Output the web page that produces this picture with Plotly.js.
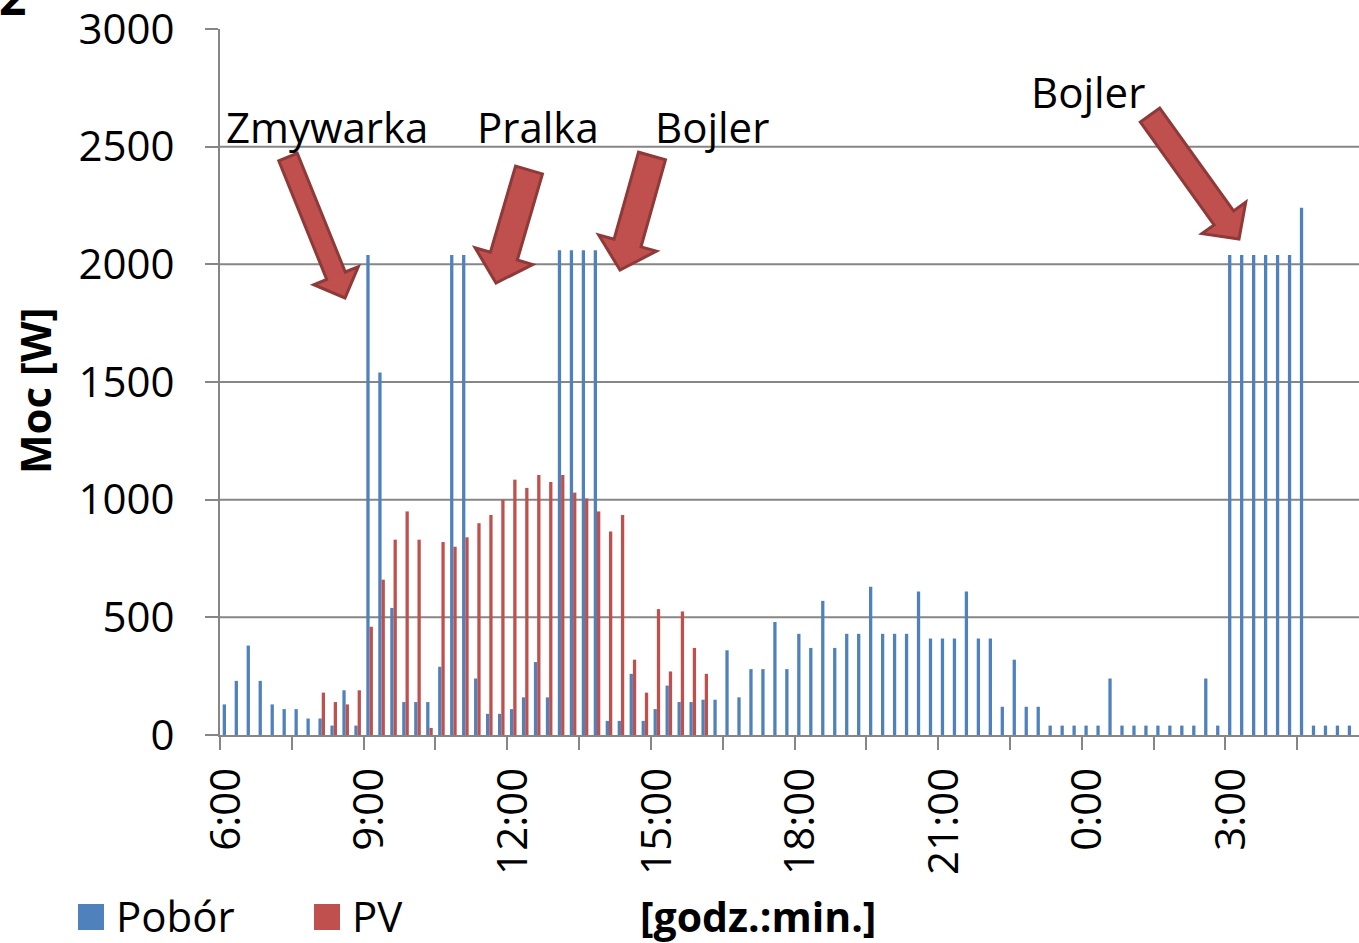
<!DOCTYPE html>
<html><head><meta charset="utf-8">
<script src="https://cdn.plot.ly/plotly-3.0.1.min.js"></script>
<style>html,body{margin:0;padding:0;overflow:hidden;background:#fff}#chart{width:1400px;height:943px}</style>
</head><body><div id="chart"></div>
<script>
// ---------- DATA ----------
const categories = [
 "6:00","6:15","6:30","6:45","7:00","7:15","7:30","7:45","8:00","8:15","8:30","8:45",
 "9:00","9:15","9:30","9:45","10:00","10:15","10:30","10:45","11:00","11:15","11:30","11:45",
 "12:00","12:15","12:30","12:45","13:00","13:15","13:30","13:45","14:00","14:15","14:30","14:45",
 "15:00","15:15","15:30","15:45","16:00","16:15","16:30","16:45","17:00","17:15","17:30","17:45",
 "18:00","18:15","18:30","18:45","19:00","19:15","19:30","19:45","20:00","20:15","20:30","20:45",
 "21:00","21:15","21:30","21:45","22:00","22:15","22:30","22:45","23:00","23:15","23:30","23:45",
 "0:00","0:15","0:30","0:45","1:00","1:15","1:30","1:45","2:00","2:15","2:30","2:45",
 "3:00","3:15","3:30","3:45","4:00","4:15","4:30","4:45","5:00","5:15","5:30","5:45"
];
const pobor = [
 130,230,380,230,130,110,110,70,70,40,190,40,
 2040,1540,540,140,140,140,290,2040,2040,240,90,90,
 110,160,310,160,2060,2060,2060,2060,60,60,260,60,
 110,210,140,140,150,150,360,160,280,280,480,280,
 430,370,570,370,430,430,630,430,430,430,610,410,
 410,410,610,410,410,120,320,120,120,40,40,40,
 40,40,240,40,40,40,40,40,40,40,240,40,
 2040,2040,2040,2040,2040,2040,2240,40,40,40,40,40
];
const pv = [
 0,0,0,0,0,0,0,0,180,140,130,190,
 460,660,830,950,830,30,820,800,840,900,935,1000,
 1085,1050,1105,1075,1105,1030,1005,950,865,935,320,180,
 535,270,525,370,260,0,0,0,0,0,0,0,
 0,0,0,0,0,0,0,0,0,0,0,0,
 0,0,0,0,0,0,0,0,0,0,0,0,
 0,0,0,0,0,0,0,0,0,0,0,0,
 0,0,0,0,0,0,0,0,0,0,0,0
];
const labelCats = ["6:00","9:00","12:00","15:00","18:00","21:00","0:00","3:00"];
const tickMarkCats = ["6:00","7:30","9:00","10:30","12:00","13:30","15:00","16:30","18:00","19:30","21:00","22:30","0:00","1:30","3:00","4:30"];
const yTicks = [0,500,1000,1500,2000,2500,3000];
const gridValues = [500,1000,1500,2000,2500];
const seriesNames = ["Pobór","PV"];
const calloutTexts = ["Zmywarka","Pralka","Bojler","Bojler"];
const yTitle = "Moc [W]";
const xTitle = "[godz.:min.]";

// ---------- LAYOUT GEOMETRY ----------
const W = 1400, H = 943, ML = 220, MR = 31, MT = 29, MB = 208;
const PW = W - ML - MR, PH = H - MT - MB;
const px = X => (X - ML) / PW;
const py = Y => (MT + PH - Y) / PH;

const BLUE = '#4F81BD', RED = '#C0504D', ARROW_LINE = '#8E3A38', GRID = '#868686';
const FONT = 'Open Sans, Noto Sans, sans-serif';

function arrowPath(tx, ty, hx, hy, w, hw, hl) {
  const dx = hx - tx, dy = hy - ty, L = Math.hypot(dx, dy);
  const ux = dx / L, uy = dy / L, nx = -uy, ny = ux;
  const bx = hx - ux * hl, by = hy - uy * hl;
  const pts = [
    [tx + nx * w / 2, ty + ny * w / 2],
    [bx + nx * w / 2, by + ny * w / 2],
    [bx + nx * hw / 2, by + ny * hw / 2],
    [hx, hy],
    [bx - nx * hw / 2, by - ny * hw / 2],
    [bx - nx * w / 2, by - ny * w / 2],
    [tx - nx * w / 2, ty - ny * w / 2]
  ];
  return 'M' + pts.map(p => px(p[0]).toFixed(5) + ',' + py(p[1]).toFixed(5)).join(' L') + ' Z';
}

const arrowGeo = [
  [288, 157, 345, 298, 20, 48, 24],
  [529, 170, 496, 283, 28, 60, 28],
  [652, 156, 620, 270, 28, 60, 28],
  [1150, 115, 1239, 239, 24, 54, 26]
];
const calloutPos = [[327, 126], [538, 126], [712, 126], [1088, 92]];

const shapes = [];
gridValues.forEach(v => shapes.push({type:'line', xref:'paper', yref:'y', x0:0, x1:1, y0:v, y1:v,
  line:{color:GRID, width:2}, layer:'below'}));
arrowGeo.forEach(a => shapes.push({type:'path', xref:'paper', yref:'paper',
  path: arrowPath(...a), fillcolor:RED, line:{color:ARROW_LINE, width:3}, layer:'above'}));
// legend swatches
shapes.push({type:'rect', xref:'paper', yref:'paper', x0:px(78), x1:px(104), y0:py(930), y1:py(904),
  fillcolor:BLUE, line:{width:0}});
shapes.push({type:'rect', xref:'paper', yref:'paper', x0:px(314), x1:px(340), y0:py(930), y1:py(904),
  fillcolor:RED, line:{width:0}});

const annotations = [];
calloutTexts.forEach((t, i) => annotations.push({text:t, xref:'paper', yref:'paper',
  x:px(calloutPos[i][0]), y:py(calloutPos[i][1]), xanchor:'center', yanchor:'middle', showarrow:false,
  font:{family:FONT, size:42, color:'#000'}}));
annotations.push({text:seriesNames[0], xref:'paper', yref:'paper', x:px(114), y:py(916),
  xanchor:'left', yanchor:'middle', showarrow:false, font:{family:FONT, size:42, color:'#000'}});
annotations.push({text:seriesNames[1], xref:'paper', yref:'paper', x:px(350), y:py(916),
  xanchor:'left', yanchor:'middle', showarrow:false, font:{family:FONT, size:42, color:'#000'}});
annotations.push({text:'<b>' + xTitle + '</b>', xref:'paper', yref:'paper', x:px(758), y:py(916),
  xanchor:'center', yanchor:'middle', showarrow:false, font:{family:FONT, size:41, color:'#000'}});
annotations.push({text:'<b>' + yTitle + '</b>', xref:'paper', yref:'paper', x:px(34), y:py(391),
  xanchor:'center', yanchor:'middle', textangle:-90, showarrow:false, font:{family:FONT, size:42, color:'#000'}});
annotations.push({text:'<b>2</b>', xref:'paper', yref:'paper', x:px(28), y:py(31),
  xanchor:'right', yanchor:'bottom', showarrow:false, font:{family:FONT, size:48, color:'#000'}});

const catIndex = categories.map((c, i) => i);
const traces = [
  {type:'bar', name:seriesNames[0], x:categories, y:pobor, marker:{color:BLUE, line:{width:0}}},
  {type:'bar', name:seriesNames[1], x:categories, y:pv, marker:{color:RED, line:{width:0}}},
  // invisible helper trace so the boundary-tick axis (x2) is drawn
  {type:'scatter', mode:'none', x:catIndex, y:pobor, xaxis:'x2', yaxis:'y',
    hoverinfo:'skip', showlegend:false}
];

const tickBoundaries = tickMarkCats.map(c => categories.indexOf(c) - 0.5);

const layout = {
  width:W, height:H, margin:{l:ML, r:MR, t:MT, b:MB, pad:0},
  paper_bgcolor:'#fff', plot_bgcolor:'#fff',
  barmode:'group', bargap:0.45, bargroupgap:0,
  showlegend:false,
  font:{family:FONT, color:'#000'},
  xaxis:{type:'category', categoryorder:'array', categoryarray:categories,
    range:[-0.5, categories.length - 0.5], automargin:false,
    tickmode:'array', tickvals:labelCats, ticktext:labelCats,
    tickangle:-90, ticks:'', ticklabelstandoff:14, ticklabeloverflow:'allow',
    showline:true, linecolor:GRID, linewidth:2, showgrid:false, zeroline:false,
    tickfont:{family:FONT, size:42, color:'#000'}},
  xaxis2:{type:'linear', overlaying:'x', anchor:'y', side:'bottom',
    range:[-0.5, categories.length - 0.5], automargin:false,
    tickmode:'array', tickvals:tickBoundaries, showticklabels:false,
    ticks:'outside', ticklen:14, tickwidth:2, tickcolor:GRID,
    showline:false, showgrid:false, zeroline:false},
  yaxis:{range:[0,3000], tickmode:'array', tickvals:yTicks, ticks:'outside', ticklen:13,
    tickwidth:2, tickcolor:GRID, showline:true, linecolor:GRID, linewidth:2,
    showgrid:false, zeroline:false, automargin:false, ticklabelstandoff:22,
    ticklabeloverflow:'allow',
    tickfont:{family:FONT, size:42, color:'#000'}},
  shapes:shapes, annotations:annotations
};

Plotly.newPlot('chart', traces, layout, {displayModeBar:false, staticPlot:true});
</script></body></html>
